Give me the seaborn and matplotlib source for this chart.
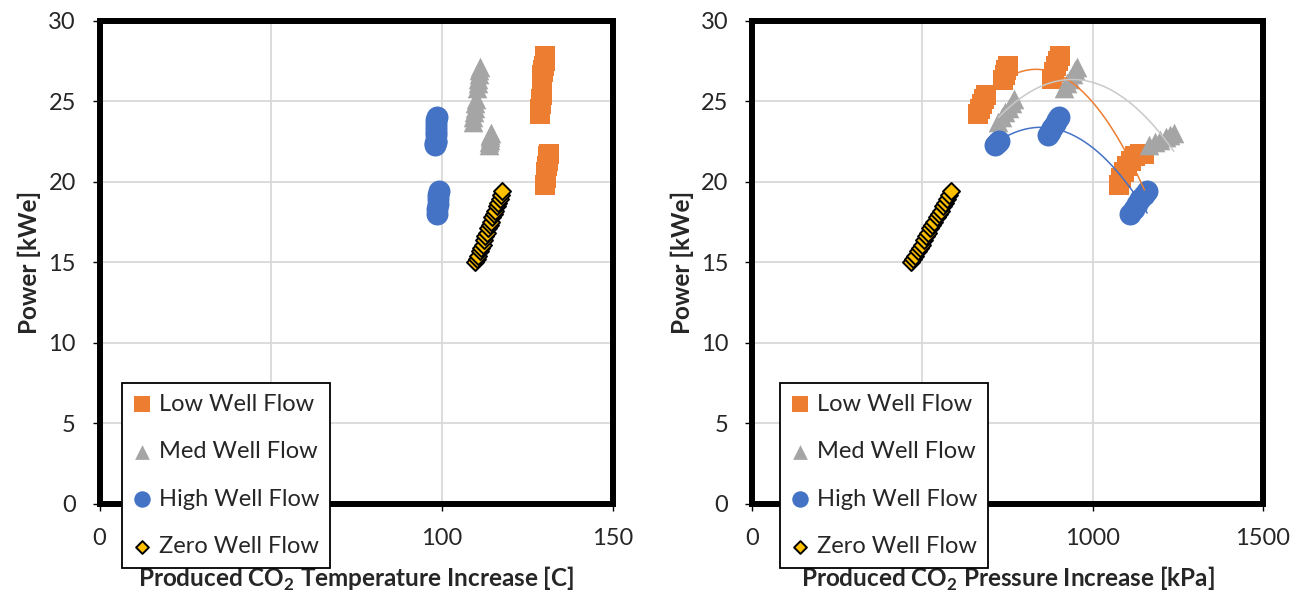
import numpy as np
import pandas as pd
import matplotlib
matplotlib.use("Agg")
import matplotlib.pyplot as plt
import seaborn as sns

sns.set_theme(style="white")
plt.rcParams['font.family'] = ['Lato', 'DejaVu Sans']
plt.rcParams['mathtext.fontset'] = 'custom'
plt.rcParams['mathtext.rm'] = 'Lato'
plt.rcParams['mathtext.bf'] = 'Lato:bold'

# ---- data: power [kWe], produced CO2 temperature increase [C], pressure increase [kPa]
low_power = [24.2, 24.5, 24.8, 25.1, 25.4,
             26.3, 26.6, 26.9, 27.2,
             26.4, 26.8, 27.2, 27.5, 27.8,
             19.8, 20.2, 20.6, 21.0, 21.3, 21.6, 21.7, 21.7]
low_temp = [128.6, 128.7, 128.9, 129.0, 129.2,
            129.3, 129.4, 129.6, 129.8,
            129.4, 129.6, 129.8, 130.0, 130.1,
            130.2, 130.4, 130.5, 130.7, 130.9, 131.0, 131.2, 131.4]
low_pres = [664, 668, 674, 681, 688,
            738, 742, 746, 750,
            882, 887, 893, 898, 903,
            1078, 1084, 1092, 1102, 1112, 1125, 1140, 1152]

med_power = [23.7, 24.0, 24.3, 24.6, 24.9, 25.1,
             25.8, 26.1, 26.4, 26.7, 26.9, 27.1,
             22.3, 22.45, 22.6, 22.75, 22.9, 23.0]
med_temp = [109.0, 109.2, 109.4, 109.6, 109.8, 110.0,
            110.4, 110.6, 110.7, 110.9, 111.0, 111.1,
            113.8, 113.9, 114.0, 114.1, 114.2, 114.3]
med_pres = [723, 733, 743, 753, 763, 770,
            917, 925, 933, 941, 948, 953,
            1166, 1182, 1198, 1214, 1228, 1238]

high_power = [22.3, 22.4, 22.45, 22.5,
              22.9, 23.1, 23.3, 23.6, 23.8, 24.0,
              18.0, 18.3, 18.6, 18.9, 19.2, 19.4]
high_temp = [98.1, 98.1, 98.2, 98.2,
             98.2, 98.3, 98.3, 98.4, 98.4, 98.5,
             98.6, 98.7, 98.8, 98.9, 99.0, 99.1]
high_pres = [714, 718, 722, 726,
             870, 876, 882, 889, 896, 902,
             1111, 1120, 1130, 1140, 1150, 1160]

zero_power = [15.0, 15.2, 15.4, 15.7, 15.9, 16.1, 16.4, 16.6, 16.8, 17.1,
              17.3, 17.5, 17.8, 18.0, 18.2, 18.5, 18.7, 18.9, 19.2, 19.4]
zero_temp = [109.8, 110.2, 110.6, 111.1, 111.5, 111.9, 112.3, 112.7, 113.1, 113.6,
             114.0, 114.4, 114.8, 115.2, 115.6, 116.0, 116.5, 116.9, 117.3, 117.7]
zero_pres = [467, 473, 479, 486, 492, 498, 504, 511, 517, 523,
             529, 535, 542, 548, 554, 560, 567, 573, 579, 585]

series_names = ["Low Well Flow", "Med Well Flow", "High Well Flow", "Zero Well Flow"]
power_ticks = [0, 5, 10, 15, 20, 25, 30]
temp_ticks = [0, 50, 100, 150]
temp_tick_labels = ["0", "", "100", "150"]
pres_ticks = [0, 500, 1000, 1500]
pres_tick_labels = ["0", "", "1000", "1500"]

frames = []
for name, p, t, k in [
    ("Low Well Flow", low_power, low_temp, low_pres),
    ("Med Well Flow", med_power, med_temp, med_pres),
    ("High Well Flow", high_power, high_temp, high_pres),
    ("Zero Well Flow", zero_power, zero_temp, zero_pres),
]:
    frames.append(pd.DataFrame({"series": name, "power": p, "temp": t, "pres": k}))
df = pd.concat(frames, ignore_index=True)

style = {
    "Low Well Flow": dict(marker="s", s=210, color="#ED7D31", edgecolor="#ED7D31", linewidth=0),
    "Med Well Flow": dict(marker="^", s=200, color="#A5A5A5", edgecolor="#A5A5A5", linewidth=0),
    "High Well Flow": dict(marker="o", s=250, color="#4472C4", edgecolor="#4472C4", linewidth=0),
    "Zero Well Flow": dict(marker="D", s=75, color="#FFC000", edgecolor="black", linewidth=1.4),
}
trend_color = {"Low Well Flow": "#ED7D31", "Med Well Flow": "#C9C9C9", "High Well Flow": "#4472C4"}

W, H = 1301, 594
fig = plt.figure(figsize=(W / 100, H / 100), dpi=100)
ax1 = fig.add_axes([99.5 / W, 1 - 504 / H, (613 - 99.5) / W, (504 - 20.5) / H])
ax2 = fig.add_axes([752 / W, 1 - 504 / H, (1263 - 752) / W, (504 - 20.5) / H])


def style_axes(ax, xlim, xticks, xticklabels, xlabel, legend_x):
    ax.set_xlim(0, xlim)
    ax.set_ylim(0, 30)
    ax.set_xticks(xticks)
    ax.set_xticklabels(xticklabels)
    ax.set_yticks(power_ticks)
    ax.grid(True, color="#D9D9D9", linewidth=1.3)
    ax.set_axisbelow(True)
    for sp in ax.spines.values():
        sp.set_visible(True)
        sp.set_color("black")
        sp.set_linewidth(4.3)
    ax.tick_params(axis="both", direction="out", length=5, width=1.0, color="black",
                   labelsize=17, labelcolor="#262626", bottom=True, left=True)
    ax.tick_params(axis="y", pad=12)
    ax.tick_params(axis="x", pad=12)
    ax.set_xlabel(xlabel, fontsize=17.5, fontweight="bold", labelpad=12)
    ax.set_ylabel("Power [kWe]", fontsize=17.5, fontweight="bold", labelpad=5)
    leg = ax.legend(loc="upper left", bbox_to_anchor=(legend_x / W, 1 - 383 / H),
                    bbox_transform=fig.transFigure, borderaxespad=0,
                    fontsize=17, frameon=True, fancybox=False, framealpha=1,
                    edgecolor="black", markerscale=0.75, handlelength=0.8,
                    handletextpad=0.3, labelspacing=1.12, borderpad=0.45)
    leg.get_frame().set_linewidth(1.3)
    leg.set_zorder(10)


for ax, xcol in [(ax1, "temp"), (ax2, "pres")]:
    for name in series_names:
        sub = df[df["series"] == name]
        sns.scatterplot(data=sub, x=xcol, y="power", ax=ax, label=name, zorder=2,
                        **style[name])

# second-order trend lines for the flowing-well cases
for name in ["Low Well Flow", "Med Well Flow", "High Well Flow"]:
    sub = df[df["series"] == name]
    coef = np.polyfit(sub["pres"], sub["power"], 2)
    xs = np.linspace(sub["pres"].min(), sub["pres"].max(), 200)
    ax2.plot(xs, np.polyval(coef, xs), color=trend_color[name], linewidth=1.1, zorder=3)

style_axes(ax1, 150, temp_ticks, temp_tick_labels,
           r"Produced CO$_\mathbf{2}$ Temperature Increase [C]", 122)
style_axes(ax2, 1500, pres_ticks, pres_tick_labels,
           r"Produced CO$_\mathbf{2}$ Pressure Increase [kPa]", 780)

fig.savefig("out.png", dpi=100)
